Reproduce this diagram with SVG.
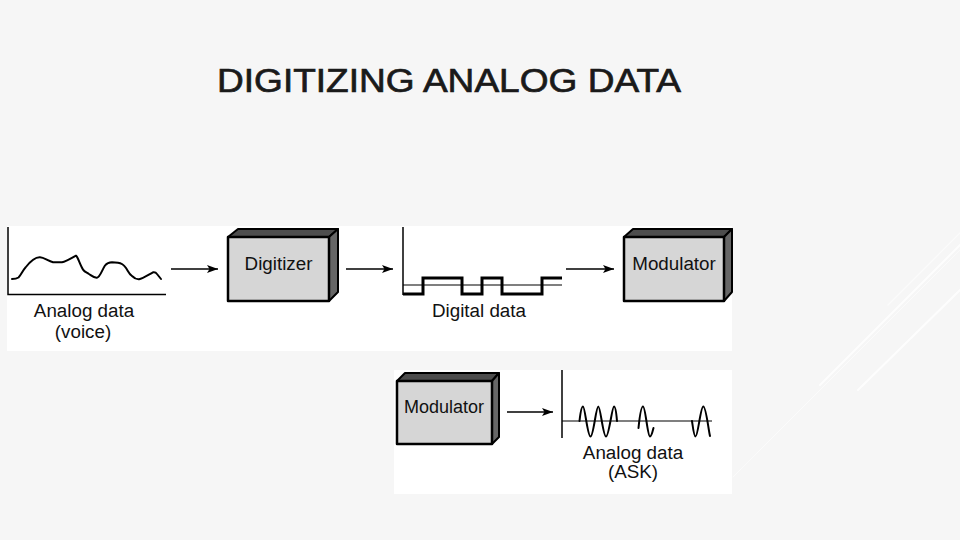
<svg xmlns="http://www.w3.org/2000/svg" width="960" height="540" viewBox="0 0 960 540">
<defs>
<style>
.lbl{font-family:"Liberation Sans",Arial,sans-serif;font-size:18.8px;fill:#111;text-anchor:middle}
.title{font-family:"Liberation Sans",Arial,sans-serif;font-size:34px;fill:#1a1a1a;stroke:#1a1a1a;stroke-width:0.7}
.front{fill:#d6d6d6;stroke:#000;stroke-width:2.5;stroke-linejoin:round}
.top{fill:#4d4d4d;stroke:#000;stroke-width:2;stroke-linejoin:round}
.side{fill:#666;stroke:#000;stroke-width:2;stroke-linejoin:round}
.axis{fill:none;stroke:#000;stroke-width:1.5}
.thin{fill:none;stroke:#000;stroke-width:1.2}
.sig{fill:none;stroke:#000;stroke-width:2;stroke-linejoin:round;stroke-linecap:round}
.thick{fill:none;stroke:#000;stroke-width:3;stroke-linejoin:miter}
.arrow{fill:none;stroke:#000;stroke-width:1.3;marker-end:url(#ah)}
.deco{stroke:#fff;fill:none;stroke-linecap:round}
</style>
<marker id="ah" markerWidth="12" markerHeight="10" refX="11" refY="5" orient="auto" markerUnits="userSpaceOnUse">
<path d="M0,1 L11,5 L0,9 L2.5,5 Z" fill="#000"/>
</marker>
</defs>
<rect width="960" height="540" fill="#f6f6f6"/>
<g id="decoration">
<line class="deco" x1="820" y1="385" x2="960" y2="245" stroke-width="2" opacity="0.8"/>
<line class="deco" x1="858" y1="390" x2="960" y2="290" stroke-width="2" opacity="0.8"/>
<line class="deco" x1="888" y1="305" x2="960" y2="233" stroke-width="1.2" opacity="0.6"/>
<line class="deco" x1="733" y1="477" x2="960" y2="250" stroke-width="1" opacity="0.5"/>
</g>
<text id="title" class="title" x="217" y="92" textLength="464" lengthAdjust="spacingAndGlyphs">DIGITIZING ANALOG DATA</text>
<rect id="panel-top" x="7" y="226" width="725" height="125" fill="#fff"/>
<rect id="panel-bottom" x="394" y="370" width="338" height="124" fill="#fff"/>

<g id="analog-voice">
<polyline class="axis" points="8,227 8,294.5 166,294.5"/>
<path class="sig" d="M12,279 C15,279 17,278.5 18.5,277.5 C21,275 23,270 25.5,267.5 C29,263 35,257 40,257.3 C44,257.5 48,261 53,262.3 L62,262.3 C65,262 72,258 76,255.7 C78,257 80,265 83.3,270 C85,272 87,272.5 89,274 C92,276 94,278 97,277.7 C100,277.5 102,270 105,265.5 C107,263 109,262.3 112,262.3 L118,262.7 C122,263 124,265 126,268 C128,271 129,274 132,276 C134,278 136,279.5 139,279.3 C143,278.5 148,275 153,272.3 C154.5,272 156,272.5 157,274 L161,279"/>
<text class="lbl" x="84" y="317">Analog data</text>
<text class="lbl" x="83" y="338">(voice)</text>
</g>

<g id="digitizer">
<polygon class="top" points="228,237 238,229 338,229 329,237"/>
<polygon class="side" points="329,237 338,229 338,292 329,301"/>
<rect class="front" x="228" y="237" width="101" height="64"/>
<text class="lbl" x="278.5" y="270">Digitizer</text>
</g>

<g id="digital-data">
<line class="axis" x1="403" y1="227" x2="403" y2="295"/>
<line class="thin" x1="403" y1="285" x2="562" y2="285"/>
<polyline class="thick" points="403,294 423,294 423,278 462,278 462,294 482,294 482,278 502,278 502,294 542,294 542,278 562,278"/>
<text class="lbl" x="479" y="317">Digital data</text>
</g>

<g id="modulator-1">
<polygon class="top" points="624,237 633,229 732,229 724,237"/>
<polygon class="side" points="724,237 732,229 732,292 724,301"/>
<rect class="front" x="624" y="237" width="100" height="64"/>
<text class="lbl" x="674" y="270">Modulator</text>
</g>

<g id="modulator-2">
<polygon class="top" points="397,381 405,373 499,373 492,381"/>
<polygon class="side" points="492,381 499,373 499,437 492,444"/>
<rect class="front" x="397" y="381" width="95" height="63"/>
<text class="lbl" x="444" y="413" style="font-size:18px">Modulator</text>
</g>

<g id="analog-ask">
<line class="axis" x1="562" y1="370" x2="562" y2="438"/>
<line class="thin" x1="562" y1="421" x2="712" y2="421"/>
<path class="sig" stroke-width="2.8" d="M579.5,421 C580.5,412 581.5,406.5 583,406.5 C585,406.5 587.5,436.5 590.5,436.5 C593.5,436.5 596,406.5 598.3,406.5 C600.5,406.5 603,436.5 606,436.5 C609,436.5 612,406.5 614,406.5 C615.5,406.5 616.5,415 617,421"/>
<path class="sig" stroke-width="2.8" d="M638.5,428 C639.5,418 641,406.5 643,406.5 C645.5,406.5 647.5,436.5 650,436.5 C651.5,436.5 652.5,432 653.5,428"/>
<path class="sig" stroke-width="2.8" d="M692,421 C693,428 694,436.5 695.5,436.5 C698,436.5 700.5,406.5 703.3,406.5 C706,406.5 708.5,430 710,436"/>
<text class="lbl" x="633" y="459">Analog data</text>
<text class="lbl" x="633" y="478">(ASK)</text>
</g>

<g id="connectors">
<line class="arrow" x1="171" y1="269" x2="218" y2="269"/>
<line class="arrow" x1="346" y1="269" x2="393" y2="269"/>
<line class="arrow" x1="566" y1="269" x2="614" y2="269"/>
<line class="arrow" x1="507" y1="412" x2="553" y2="412"/>
</g>
</svg>
